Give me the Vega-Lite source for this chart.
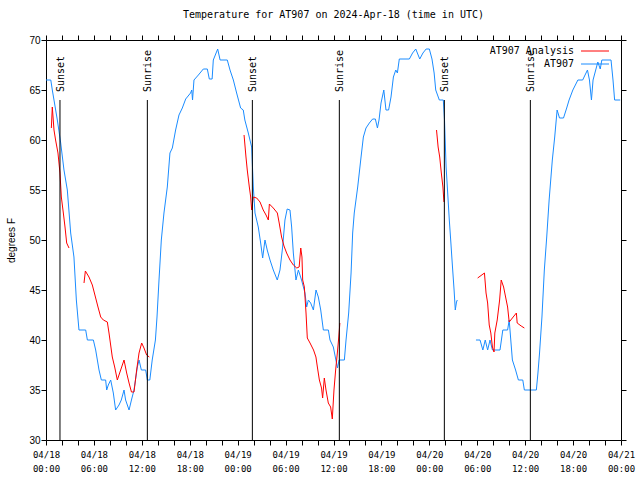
{
  "$schema": "https://vega.github.io/schema/vega-lite/v6.json",
  "width": 575,
  "height": 400,
  "autosize": {"type": "none"},
  "padding": {"left": 46, "top": 40, "right": 19, "bottom": 40},
  "background": "white",
  "config": {"view": {"stroke": null}},
  "title": {"text": "Temperature for AT907 on 2024-Apr-18 (time in UTC)", "font": "DejaVu Sans Mono", "fontSize": 10, "fontWeight": "normal", "anchor": "middle", "offset": 15, "color": "black"},
  "datasets": {
    "obs": [
      {"s":"AT907","g":1,"h":0,"t":66},{"s":"AT907","g":1,"h":0.6,"t":66},{"s":"AT907","g":1,"h":0.79,"t":65},{"s":"AT907","g":1,"h":1.0,"t":64},{"s":"AT907","g":1,"h":1.42,"t":62},{"s":"AT907","g":1,"h":1.84,"t":59.7},{"s":"AT907","g":1,"h":2.25,"t":57},{"s":"AT907","g":1,"h":2.67,"t":55},{"s":"AT907","g":1,"h":3.09,"t":50.7},{"s":"AT907","g":1,"h":3.5,"t":48.3},{"s":"AT907","g":1,"h":3.8,"t":44},{"s":"AT907","g":1,"h":4.13,"t":41},{"s":"AT907","g":1,"h":4.97,"t":41},{"s":"AT907","g":1,"h":5.18,"t":40},{"s":"AT907","g":1,"h":5.93,"t":40},{"s":"AT907","g":1,"h":6.22,"t":39},{"s":"AT907","g":1,"h":6.64,"t":37},{"s":"AT907","g":1,"h":6.93,"t":36},{"s":"AT907","g":1,"h":7.47,"t":36},{"s":"AT907","g":1,"h":7.6,"t":35},{"s":"AT907","g":1,"h":7.8,"t":35.5},{"s":"AT907","g":1,"h":8.1,"t":36},{"s":"AT907","g":1,"h":8.43,"t":34.7},{"s":"AT907","g":1,"h":8.72,"t":33},{"s":"AT907","g":1,"h":9.14,"t":33.5},{"s":"AT907","g":1,"h":9.43,"t":34},{"s":"AT907","g":1,"h":9.77,"t":35},{"s":"AT907","g":1,"h":9.97,"t":34},{"s":"AT907","g":1,"h":10.4,"t":33},{"s":"AT907","g":1,"h":10.7,"t":34},{"s":"AT907","g":1,"h":11.02,"t":35},{"s":"AT907","g":1,"h":11.44,"t":37.3},{"s":"AT907","g":1,"h":11.65,"t":38},{"s":"AT907","g":1,"h":11.94,"t":37},{"s":"AT907","g":1,"h":12.48,"t":37},{"s":"AT907","g":1,"h":12.69,"t":36},{"s":"AT907","g":1,"h":13.0,"t":36},{"s":"AT907","g":1,"h":13.3,"t":38},{"s":"AT907","g":1,"h":13.7,"t":40},{"s":"AT907","g":1,"h":13.9,"t":42.3},{"s":"AT907","g":1,"h":14.15,"t":46},{"s":"AT907","g":1,"h":14.44,"t":50},{"s":"AT907","g":1,"h":14.77,"t":52.7},{"s":"AT907","g":1,"h":15.19,"t":55.3},{"s":"AT907","g":1,"h":15.52,"t":58.7},{"s":"AT907","g":1,"h":15.82,"t":59.2},{"s":"AT907","g":1,"h":16.23,"t":61},{"s":"AT907","g":1,"h":16.65,"t":62.5},{"s":"AT907","g":1,"h":17.07,"t":63.2},{"s":"AT907","g":1,"h":17.49,"t":64.1},{"s":"AT907","g":1,"h":18.1,"t":64.7},{"s":"AT907","g":1,"h":18.25,"t":65},{"s":"AT907","g":1,"h":18.35,"t":64},{"s":"AT907","g":1,"h":18.53,"t":66},{"s":"AT907","g":1,"h":19.08,"t":66.5},{"s":"AT907","g":1,"h":19.7,"t":67.1},{"s":"AT907","g":1,"h":20.2,"t":67.1},{"s":"AT907","g":1,"h":20.45,"t":66.1},{"s":"AT907","g":1,"h":20.8,"t":66.1},{"s":"AT907","g":1,"h":20.95,"t":68},{"s":"AT907","g":1,"h":21.3,"t":68.7},{"s":"AT907","g":1,"h":21.5,"t":69.1},{"s":"AT907","g":1,"h":21.8,"t":68},{"s":"AT907","g":1,"h":22.7,"t":68},{"s":"AT907","g":1,"h":23.04,"t":67},{"s":"AT907","g":1,"h":23.46,"t":66},{"s":"AT907","g":1,"h":23.87,"t":64.7},{"s":"AT907","g":1,"h":24.37,"t":63.2},{"s":"AT907","g":1,"h":24.7,"t":63},{"s":"AT907","g":1,"h":24.9,"t":62},{"s":"AT907","g":1,"h":25.33,"t":60.7},{"s":"AT907","g":1,"h":25.75,"t":59.3},{"s":"AT907","g":1,"h":25.96,"t":55.3},{"s":"AT907","g":1,"h":26.17,"t":52.7},{"s":"AT907","g":1,"h":26.58,"t":51.3},{"s":"AT907","g":1,"h":26.88,"t":49.7},{"s":"AT907","g":1,"h":27.13,"t":48.2},{"s":"AT907","g":1,"h":27.42,"t":50},{"s":"AT907","g":1,"h":27.7,"t":49},{"s":"AT907","g":1,"h":28.05,"t":48},{"s":"AT907","g":1,"h":28.46,"t":47},{"s":"AT907","g":1,"h":28.96,"t":46},{"s":"AT907","g":1,"h":29.3,"t":47},{"s":"AT907","g":1,"h":29.63,"t":49.3},{"s":"AT907","g":1,"h":29.92,"t":52},{"s":"AT907","g":1,"h":30.2,"t":53.1},{"s":"AT907","g":1,"h":30.55,"t":53},{"s":"AT907","g":1,"h":30.76,"t":51.3},{"s":"AT907","g":1,"h":30.97,"t":48.7},{"s":"AT907","g":1,"h":31.3,"t":46},{"s":"AT907","g":1,"h":31.6,"t":47},{"s":"AT907","g":1,"h":32.0,"t":46},{"s":"AT907","g":1,"h":32.43,"t":44.7},{"s":"AT907","g":1,"h":32.64,"t":43.3},{"s":"AT907","g":1,"h":32.85,"t":44},{"s":"AT907","g":1,"h":33.14,"t":43.7},{"s":"AT907","g":1,"h":33.48,"t":43},{"s":"AT907","g":1,"h":33.81,"t":45},{"s":"AT907","g":1,"h":34.1,"t":44.3},{"s":"AT907","g":1,"h":34.4,"t":43},{"s":"AT907","g":1,"h":34.73,"t":41},{"s":"AT907","g":1,"h":35.36,"t":41},{"s":"AT907","g":1,"h":35.56,"t":40},{"s":"AT907","g":1,"h":35.98,"t":39.3},{"s":"AT907","g":1,"h":36.3,"t":38},{"s":"AT907","g":1,"h":36.5,"t":37.2},{"s":"AT907","g":1,"h":36.7,"t":38},{"s":"AT907","g":1,"h":37.36,"t":38},{"s":"AT907","g":1,"h":37.57,"t":40},{"s":"AT907","g":1,"h":37.9,"t":42.7},{"s":"AT907","g":1,"h":38.2,"t":46.7},{"s":"AT907","g":1,"h":38.4,"t":50.7},{"s":"AT907","g":1,"h":38.6,"t":52.7},{"s":"AT907","g":1,"h":39.03,"t":55.3},{"s":"AT907","g":1,"h":39.45,"t":58.3},{"s":"AT907","g":1,"h":39.74,"t":60.3},{"s":"AT907","g":1,"h":40.07,"t":61.2},{"s":"AT907","g":1,"h":40.49,"t":61.7},{"s":"AT907","g":1,"h":40.9,"t":62.1},{"s":"AT907","g":1,"h":41.24,"t":62.1},{"s":"AT907","g":1,"h":41.5,"t":61.2},{"s":"AT907","g":1,"h":41.7,"t":62},{"s":"AT907","g":1,"h":41.95,"t":63.7},{"s":"AT907","g":1,"h":42.3,"t":65},{"s":"AT907","g":1,"h":42.57,"t":63},{"s":"AT907","g":1,"h":42.9,"t":63},{"s":"AT907","g":1,"h":43.2,"t":64.3},{"s":"AT907","g":1,"h":43.5,"t":66.3},{"s":"AT907","g":1,"h":43.8,"t":67},{"s":"AT907","g":1,"h":44.0,"t":66.7},{"s":"AT907","g":1,"h":44.24,"t":68.1},{"s":"AT907","g":1,"h":45.5,"t":68.1},{"s":"AT907","g":1,"h":45.9,"t":68.7},{"s":"AT907","g":1,"h":46.3,"t":69.1},{"s":"AT907","g":1,"h":46.8,"t":68.1},{"s":"AT907","g":1,"h":47.2,"t":68.7},{"s":"AT907","g":1,"h":47.6,"t":69.1},{"s":"AT907","g":1,"h":48.0,"t":69.1},{"s":"AT907","g":1,"h":48.33,"t":68.1},{"s":"AT907","g":1,"h":48.6,"t":66.7},{"s":"AT907","g":1,"h":48.8,"t":65},{"s":"AT907","g":1,"h":49.25,"t":64},{"s":"AT907","g":1,"h":49.75,"t":64},{"s":"AT907","g":1,"h":49.9,"t":62},{"s":"AT907","g":1,"h":50.1,"t":57.3},{"s":"AT907","g":1,"h":50.3,"t":54.7},{"s":"AT907","g":1,"h":50.5,"t":52},{"s":"AT907","g":1,"h":50.7,"t":49.7},{"s":"AT907","g":1,"h":50.9,"t":47.3},{"s":"AT907","g":1,"h":51.1,"t":45},{"s":"AT907","g":1,"h":51.25,"t":43},{"s":"AT907","g":1,"h":51.4,"t":43.8},{"s":"AT907","g":1,"h":51.5,"t":44},
      {"s":"AT907","g":2,"h":53.84,"t":40},{"s":"AT907","g":2,"h":54.35,"t":40},{"s":"AT907","g":2,"h":54.7,"t":39},{"s":"AT907","g":2,"h":55.0,"t":40},{"s":"AT907","g":2,"h":55.3,"t":39},{"s":"AT907","g":2,"h":55.6,"t":40},{"s":"AT907","g":2,"h":55.9,"t":39},{"s":"AT907","g":2,"h":56.85,"t":39},{"s":"AT907","g":2,"h":57.2,"t":41},{"s":"AT907","g":2,"h":57.8,"t":41},{"s":"AT907","g":2,"h":58.0,"t":42},{"s":"AT907","g":2,"h":58.2,"t":40},{"s":"AT907","g":2,"h":58.4,"t":38},{"s":"AT907","g":2,"h":58.8,"t":37},{"s":"AT907","g":2,"h":59.15,"t":36},{"s":"AT907","g":2,"h":59.7,"t":36},{"s":"AT907","g":2,"h":59.9,"t":35},{"s":"AT907","g":2,"h":61.4,"t":35},{"s":"AT907","g":2,"h":61.6,"t":36.7},{"s":"AT907","g":2,"h":61.8,"t":38.7},{"s":"AT907","g":2,"h":62.1,"t":42.3},{"s":"AT907","g":2,"h":62.4,"t":47},{"s":"AT907","g":2,"h":62.7,"t":50.3},{"s":"AT907","g":2,"h":63.0,"t":54},{"s":"AT907","g":2,"h":63.4,"t":58},{"s":"AT907","g":2,"h":63.7,"t":60.3},{"s":"AT907","g":2,"h":64.0,"t":63},{"s":"AT907","g":2,"h":64.3,"t":62.2},{"s":"AT907","g":2,"h":64.8,"t":62.2},{"s":"AT907","g":2,"h":65.2,"t":63.2},{"s":"AT907","g":2,"h":65.5,"t":64},{"s":"AT907","g":2,"h":65.97,"t":65},{"s":"AT907","g":2,"h":66.6,"t":66},{"s":"AT907","g":2,"h":67.2,"t":66},{"s":"AT907","g":2,"h":67.8,"t":67},{"s":"AT907","g":2,"h":68.05,"t":66},{"s":"AT907","g":2,"h":68.3,"t":64},{"s":"AT907","g":2,"h":68.5,"t":66},{"s":"AT907","g":2,"h":69.1,"t":67.8},{"s":"AT907","g":2,"h":69.4,"t":67.1},{"s":"AT907","g":2,"h":69.6,"t":68},{"s":"AT907","g":2,"h":70.75,"t":68},{"s":"AT907","g":2,"h":71.0,"t":66},{"s":"AT907","g":2,"h":71.2,"t":64},{"s":"AT907","g":2,"h":71.9,"t":64},
      {"s":"AT907 Analysis","g":3,"h":0.67,"t":61.2},{"s":"AT907 Analysis","g":3,"h":0.79,"t":63.3},{"s":"AT907 Analysis","g":3,"h":1.0,"t":61},{"s":"AT907 Analysis","g":3,"h":1.2,"t":60},{"s":"AT907 Analysis","g":3,"h":1.5,"t":58.7},{"s":"AT907 Analysis","g":3,"h":1.75,"t":56.7},{"s":"AT907 Analysis","g":3,"h":1.92,"t":54.3},{"s":"AT907 Analysis","g":3,"h":2.17,"t":52.7},{"s":"AT907 Analysis","g":3,"h":2.38,"t":51.3},{"s":"AT907 Analysis","g":3,"h":2.59,"t":49.7},{"s":"AT907 Analysis","g":3,"h":2.88,"t":49.2},
      {"s":"AT907 Analysis","g":4,"h":4.76,"t":45.7},{"s":"AT907 Analysis","g":4,"h":4.93,"t":46.9},{"s":"AT907 Analysis","g":4,"h":5.38,"t":46.3},{"s":"AT907 Analysis","g":4,"h":5.8,"t":45.5},{"s":"AT907 Analysis","g":4,"h":6.22,"t":44.2},{"s":"AT907 Analysis","g":4,"h":6.51,"t":43.3},{"s":"AT907 Analysis","g":4,"h":6.85,"t":42.3},{"s":"AT907 Analysis","g":4,"h":7.18,"t":42},{"s":"AT907 Analysis","g":4,"h":7.68,"t":41.8},{"s":"AT907 Analysis","g":4,"h":7.89,"t":40.7},{"s":"AT907 Analysis","g":4,"h":8.3,"t":38.3},{"s":"AT907 Analysis","g":4,"h":8.6,"t":37.3},{"s":"AT907 Analysis","g":4,"h":8.93,"t":36},{"s":"AT907 Analysis","g":4,"h":9.35,"t":37},{"s":"AT907 Analysis","g":4,"h":9.77,"t":38},{"s":"AT907 Analysis","g":4,"h":10.1,"t":36.7},{"s":"AT907 Analysis","g":4,"h":10.4,"t":35.7},{"s":"AT907 Analysis","g":4,"h":10.7,"t":34.8},{"s":"AT907 Analysis","g":4,"h":11.02,"t":34.8},{"s":"AT907 Analysis","g":4,"h":11.35,"t":37},{"s":"AT907 Analysis","g":4,"h":11.65,"t":38.7},{"s":"AT907 Analysis","g":4,"h":11.98,"t":39.7},{"s":"AT907 Analysis","g":4,"h":12.27,"t":39.2},{"s":"AT907 Analysis","g":4,"h":12.6,"t":38.5},{"s":"AT907 Analysis","g":4,"h":12.94,"t":38.3},
      {"s":"AT907 Analysis","g":5,"h":24.8,"t":60.5},{"s":"AT907 Analysis","g":5,"h":25.04,"t":58.3},{"s":"AT907 Analysis","g":5,"h":25.2,"t":57},{"s":"AT907 Analysis","g":5,"h":25.46,"t":55.3},{"s":"AT907 Analysis","g":5,"h":25.63,"t":54.3},{"s":"AT907 Analysis","g":5,"h":25.75,"t":53},{"s":"AT907 Analysis","g":5,"h":25.96,"t":54.3},{"s":"AT907 Analysis","g":5,"h":26.38,"t":54.2},{"s":"AT907 Analysis","g":5,"h":26.8,"t":53.8},{"s":"AT907 Analysis","g":5,"h":27.2,"t":53},{"s":"AT907 Analysis","g":5,"h":27.55,"t":52.5},{"s":"AT907 Analysis","g":5,"h":27.84,"t":52},{"s":"AT907 Analysis","g":5,"h":27.97,"t":53.6},{"s":"AT907 Analysis","g":5,"h":28.46,"t":53.2},{"s":"AT907 Analysis","g":5,"h":28.97,"t":52.7},{"s":"AT907 Analysis","g":5,"h":29.2,"t":51.7},{"s":"AT907 Analysis","g":5,"h":29.5,"t":50.3},{"s":"AT907 Analysis","g":5,"h":29.8,"t":49.4},{"s":"AT907 Analysis","g":5,"h":30.13,"t":48.7},{"s":"AT907 Analysis","g":5,"h":30.55,"t":48},{"s":"AT907 Analysis","g":5,"h":30.97,"t":47.5},{"s":"AT907 Analysis","g":5,"h":31.4,"t":47.2},{"s":"AT907 Analysis","g":5,"h":31.7,"t":47.3},{"s":"AT907 Analysis","g":5,"h":31.9,"t":49.2},{"s":"AT907 Analysis","g":5,"h":32.05,"t":48.3},{"s":"AT907 Analysis","g":5,"h":32.14,"t":46},{"s":"AT907 Analysis","g":5,"h":32.35,"t":45.3},{"s":"AT907 Analysis","g":5,"h":32.56,"t":42.7},{"s":"AT907 Analysis","g":5,"h":32.72,"t":40.2},{"s":"AT907 Analysis","g":5,"h":33.06,"t":39.7},{"s":"AT907 Analysis","g":5,"h":33.5,"t":39},{"s":"AT907 Analysis","g":5,"h":33.8,"t":38.3},{"s":"AT907 Analysis","g":5,"h":33.98,"t":37.3},{"s":"AT907 Analysis","g":5,"h":34.23,"t":36},{"s":"AT907 Analysis","g":5,"h":34.5,"t":35.2},{"s":"AT907 Analysis","g":5,"h":34.64,"t":34.2},{"s":"AT907 Analysis","g":5,"h":34.85,"t":36.2},{"s":"AT907 Analysis","g":5,"h":35.06,"t":35},{"s":"AT907 Analysis","g":5,"h":35.35,"t":33.7},{"s":"AT907 Analysis","g":5,"h":35.64,"t":33.3},{"s":"AT907 Analysis","g":5,"h":35.85,"t":32.1},{"s":"AT907 Analysis","g":5,"h":36.06,"t":35},{"s":"AT907 Analysis","g":5,"h":36.27,"t":37},{"s":"AT907 Analysis","g":5,"h":36.48,"t":38.7},{"s":"AT907 Analysis","g":5,"h":36.65,"t":40.2},{"s":"AT907 Analysis","g":5,"h":36.8,"t":41.7},
      {"s":"AT907 Analysis","g":6,"h":48.9,"t":61},{"s":"AT907 Analysis","g":6,"h":49.1,"t":59.3},{"s":"AT907 Analysis","g":6,"h":49.3,"t":58.3},{"s":"AT907 Analysis","g":6,"h":49.5,"t":56.7},{"s":"AT907 Analysis","g":6,"h":49.7,"t":55.3},{"s":"AT907 Analysis","g":6,"h":49.83,"t":53.8},
      {"s":"AT907 Analysis","g":7,"h":54.05,"t":46.2},{"s":"AT907 Analysis","g":7,"h":54.9,"t":46.7},{"s":"AT907 Analysis","g":7,"h":55.1,"t":44.7},{"s":"AT907 Analysis","g":7,"h":55.3,"t":43.7},{"s":"AT907 Analysis","g":7,"h":55.5,"t":41.5},{"s":"AT907 Analysis","g":7,"h":55.7,"t":40.7},{"s":"AT907 Analysis","g":7,"h":55.9,"t":39.3},{"s":"AT907 Analysis","g":7,"h":56.1,"t":38.8},{"s":"AT907 Analysis","g":7,"h":56.2,"t":40.7},{"s":"AT907 Analysis","g":7,"h":56.5,"t":42},{"s":"AT907 Analysis","g":7,"h":56.8,"t":44},{"s":"AT907 Analysis","g":7,"h":57.0,"t":46},{"s":"AT907 Analysis","g":7,"h":57.3,"t":45.3},{"s":"AT907 Analysis","g":7,"h":57.5,"t":44.5},{"s":"AT907 Analysis","g":7,"h":57.8,"t":43.3},{"s":"AT907 Analysis","g":7,"h":58.0,"t":41.8},{"s":"AT907 Analysis","g":7,"h":58.4,"t":42.2},{"s":"AT907 Analysis","g":7,"h":58.9,"t":42.7},{"s":"AT907 Analysis","g":7,"h":59.0,"t":41.7},{"s":"AT907 Analysis","g":7,"h":59.5,"t":41.4},{"s":"AT907 Analysis","g":7,"h":59.9,"t":41.2}
    ],
    "events": [
      {"ev":"Sunset","h":1.75},{"ev":"Sunrise","h":12.69},{"ev":"Sunset","h":25.84},{"ev":"Sunrise","h":36.73},{"ev":"Sunset","h":49.88},{"ev":"Sunrise","h":60.65}
    ]
  },
  "resolve": {"axis": {"x": "independent", "y": "independent"}},
  "layer": [
    {
      "data": {"name": "obs"},
      "mark": {"type": "line", "strokeWidth": 1},
      "encoding": {
        "x": {"field": "h", "type": "quantitative",
          "scale": {"domain": [0, 72], "nice": false, "zero": false},
          "axis": {"orient": "bottom", "title": null, "grid": false,
            "values": [0,2,4,6,8,10,12,14,16,18,20,22,24,26,28,30,32,34,36,38,40,42,44,46,48,50,52,54,56,58,60,62,64,66,68,70,72],
            "domain": true, "domainColor": "black", "domainWidth": 1,
            "ticks": true, "tickColor": "black", "tickSize": 5, "tickWidth": 1, "tickOpacity": 1,
            "encode": {"ticks": {"update": {"y2": {"signal": "datum.value % 6 === 0 ? -5 : -3"}}}},
            "labelExpr": "datum.value % 6 === 0 ? [utcFormat(utc(2024,3,18) + datum.value*3600000, '%m/%d'), utcFormat(utc(2024,3,18) + datum.value*3600000, '%H:%M')] : ''",
            "labelFont": "DejaVu Sans Mono", "labelFontSize": 9, "labelColor": "black",
            "labelPadding": 5, "labelLineHeight": 14, "labelBaseline": "top",
            "labelOverlap": false, "labelFlush": false, "labelBound": false}},
        "y": {"field": "t", "type": "quantitative",
          "scale": {"domain": [30, 70], "nice": false, "zero": false},
          "axis": {"orient": "left", "values": [30,35,40,45,50,55,60,65,70], "grid": false,
            "domain": true, "domainColor": "black", "domainWidth": 1,
            "ticks": true, "tickColor": "black", "tickSize": 5, "tickOpacity": 1,
            "encode": {"ticks": {"update": {"x2": {"value": 5}}}},
            "labelFont": "Liberation Sans", "labelFontSize": 10, "labelColor": "black", "labelPadding": 1,
            "title": "degrees F", "titleFont": "Liberation Sans", "titleFontSize": 10, "titleFontWeight": "normal", "titleColor": "black",
            "titleX": -35, "titleY": 200, "titleAngle": 270, "titleAlign": "center", "titleBaseline": "middle"}},
        "color": {"field": "s", "type": "nominal",
          "scale": {"domain": ["AT907 Analysis", "AT907"], "range": ["#ff0000", "#1a8cff"]},
          "legend": {"orient": "none", "legendX": 544, "legendY": 6, "title": null, "padding": 0,
            "symbolType": "M-7,0H7", "symbolSize": 16, "symbolStrokeWidth": 1,
            "labelFont": "DejaVu Sans Mono", "labelFontSize": 10, "labelColor": "black",
            "labelAlign": "right", "labelOffset": -26, "rowPadding": 3}},
        "detail": {"field": "g", "type": "nominal"},
        "order": {"field": "h", "type": "quantitative"}
      }
    },
    {
      "data": {"name": "events"},
      "mark": {"type": "rule", "color": "black", "strokeWidth": 1},
      "encoding": {
        "x": {"field": "h", "type": "quantitative",
          "axis": {"orient": "top", "title": null, "grid": false, "labels": false,
            "values": [0,2,4,6,8,10,12,14,16,18,20,22,24,26,28,30,32,34,36,38,40,42,44,46,48,50,52,54,56,58,60,62,64,66,68,70,72],
            "domain": true, "domainColor": "black", "domainWidth": 1,
            "ticks": true, "tickColor": "black", "tickSize": 5, "tickOpacity": 1,
            "encode": {"ticks": {"update": {"y2": {"signal": "datum.value % 6 === 0 ? 5 : 3"}}}}}},
        "y": {"datum": 30, "type": "quantitative",
          "axis": {"orient": "right", "title": null, "grid": false, "labels": false,
            "values": [30,35,40,45,50,55,60,65,70],
            "domain": true, "domainColor": "black", "domainWidth": 1,
            "ticks": true, "tickColor": "black", "tickSize": 5, "tickOpacity": 1,
            "encode": {"ticks": {"update": {"x2": {"value": -5}}}}}},
        "y2": {"datum": 64}
      }
    },
    {
      "data": {"name": "events"},
      "mark": {"type": "text", "angle": 270, "align": "left", "baseline": "middle", "dx": 8, "dy": 1, "font": "DejaVu Sans Mono", "fontSize": 10, "color": "black"},
      "encoding": {
        "x": {"field": "h", "type": "quantitative", "axis": null},
        "y": {"datum": 64, "type": "quantitative", "axis": null},
        "text": {"field": "ev", "type": "nominal"}
      }
    }
  ]
}
